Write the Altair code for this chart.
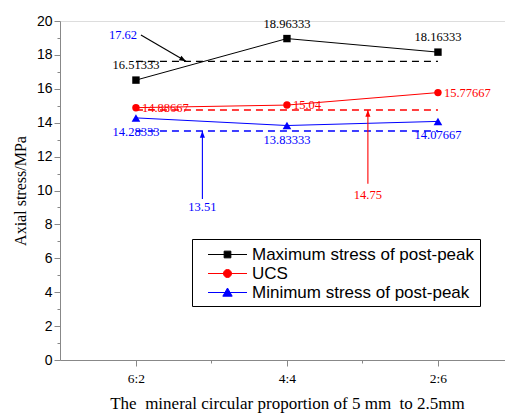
import altair as alt
import pandas as pd

# ---------------- data ----------------
categories = ["6:2", "4:4", "2:6"]
positions = [0, 1, 2]
series_names = ["Maximum stress of post-peak", "UCS", "Minimum stress of post-peak"]
series_keys = ["max", "ucs", "min"]
series_colors = ["#000000", "#ff0000", "#0000ff"]

max_stress = [16.51333, 18.96333, 18.16333]
ucs = [14.88667, 15.04, 15.77667]
min_stress = [14.28333, 13.83333, 14.07667]
max_labels = ["16.51333", "18.96333", "18.16333"]
ucs_labels = ["14.88667", "15.04", "15.77667"]
min_labels = ["14.28333", "13.83333", "14.07667"]

# average (dashed) lines
mean_keys = ["max", "ucs", "min"]
mean_values = [17.62, 14.75, 13.51]

# annotation arrows (start -> tip) and their texts
arrow_keys = ["max", "ucs", "min"]
arrow_x0 = [0.033, 1.536, 0.44]
arrow_y0 = [19.17, 10.4, 9.5]
arrow_x1 = [0.331, 1.536, 0.44]
arrow_y1 = [17.62, 14.75, 13.51]
arrow_angle = [120, 0, 0]
note_keys = ["min", "ucs", "min"]
note_text = ["17.62", "14.75", "13.51"]
note_x = [-0.086, 1.536, 0.44]
note_y = [19.17, 9.73, 9.04]

y_ticks = list(range(0, 21))
x_ticks = [0, 0.5, 1, 1.5, 2]

# ---------------- tables ----------------
rows = []
for name, key, vals, labs in zip(series_names, series_keys, [max_stress, ucs, min_stress],
                                 [max_labels, ucs_labels, min_labels]):
    for p, v, l in zip(positions, vals, labs):
        rows.append({"x": p, "y": v, "series": name, "key": key, "label": l})
df = pd.DataFrame(rows)

df_mean = pd.DataFrame({"key": mean_keys, "y": mean_values,
                        "x": [positions[0]] * 3, "x2": [positions[-1]] * 3})
df_arrow = pd.DataFrame({"key": arrow_keys, "x": arrow_x0, "y": arrow_y0,
                         "x2": arrow_x1, "y2": arrow_y1, "angle": arrow_angle})
df_note = pd.DataFrame({"key": note_keys, "text": note_text, "x": note_x, "y": note_y})

SERIF = "Liberation Serif"
SANS = "Liberation Sans"

color_scale = alt.Scale(domain=series_keys, range=series_colors)
col = alt.Color("key:N", scale=color_scale, legend=None)

label_expr = " : ".join(
    [f"datum.value == {p} ? '{c}'" for p, c in zip(positions, categories)]) + " : ''"

x_enc = alt.X("x:Q",
              scale=alt.Scale(domain=[-0.503, 2.444], nice=False, zero=False),
              axis=alt.Axis(values=x_ticks, tickCount=50, labelExpr=label_expr,
                            tickSize={"condition": {"test": "datum.value % 1 != 0", "value": 3}, "value": 6},
                            labelFont=SERIF, labelFontSize=13.5, labelPadding=5,
                            title="The\u00a0 mineral circular proportion of 5 mm\u00a0 to 2.5mm",
                            titleFont=SERIF, titleFontSize=17, titleFontWeight="normal",
                            titlePadding=11, titleX=227, labelOverlap=False, grid=False))
y_enc = alt.Y("y:Q",
              scale=alt.Scale(domain=[0, 20], nice=False, zero=False),
              axis=alt.Axis(values=y_ticks, tickCount=50, format="d",
                            labelExpr="datum.value % 2 == 0 ? datum.label : ''",
                            tickSize={"condition": {"test": "datum.value % 2 != 0", "value": 3}, "value": 6},
                            labelFont=SANS, labelFontSize=14, labelPadding=2,
                            title="Axial stress/MPa", titleFont=SERIF, titleFontSize=16,
                            titleFontWeight="normal", titlePadding=8,
                            labelOverlap=False, grid=False))

base = alt.Chart(df)

lines = base.mark_line(strokeWidth=1).encode(x=x_enc, y=y_enc, color=col, detail="key:N")

shapes = ["square", "circle", "triangle-up"]
sizes = [55, 55, 75]
point_layers = [
    base.transform_filter(alt.datum.key == key)
    .mark_point(filled=True, opacity=1, shape=shp, size=sz)
    .encode(x="x:Q", y="y:Q", color=col)
    for key, shp, sz in zip(series_keys, shapes, sizes)
]

mean_lines = alt.Chart(df_mean).mark_rule(strokeDash=[7, 5], strokeWidth=1.4).encode(
    x="x:Q", x2="x2:Q", y="y:Q", color=col)

lab_max = base.transform_filter(alt.datum.key == "max").mark_text(
    font=SERIF, fontSize=12.5, dy=-15, align="center", baseline="middle").encode(
    x="x:Q", y="y:Q", text="label:N", color=col)
lab_ucs = base.transform_filter(alt.datum.key == "ucs").mark_text(
    font=SERIF, fontSize=12.5, dx=6, align="left", baseline="middle").encode(
    x="x:Q", y="y:Q", text="label:N", color=col)
lab_min = base.transform_filter(alt.datum.key == "min").mark_text(
    font=SERIF, fontSize=12.5, dy=14, align="center", baseline="middle").encode(
    x="x:Q", y="y:Q", text="label:N", color=col)

arrow_lines = alt.Chart(df_arrow).mark_rule(strokeWidth=1.1).encode(
    x="x:Q", y="y:Q", x2="x2:Q", y2="y2:Q", color=col)
arrow_heads = alt.Chart(df_arrow).mark_point(
    filled=True, opacity=1, size=180, shape="M0,0L-0.38,1L0.38,1Z").encode(
    x="x2:Q", y="y2:Q", angle=alt.Angle("angle:Q", scale=None), color=col)

notes = alt.Chart(df_note).mark_text(font=SERIF, fontSize=12.5, align="center", baseline="middle").encode(
    x="x:Q", y="y:Q", text="text:N", color=col)

# legend: symbols made of a short line with the marker in its middle
legend_paths = [
    "M0.05,0H3.95M1.665,-0.335H2.335V0.335H1.665Z",
    "M0.05,0H3.95M1.6,0A0.4,0.4,0,1,0,2.4,0A0.4,0.4,0,1,0,1.6,0Z",
    "M0.05,0H3.95M2,-0.45L2.47,0.37H1.53Z",
]
leg = dict(orient="none", legendX=132, legendY=218, title=None, symbolSize=400,
           symbolStrokeWidth=1, symbolOpacity=1, labelFont=SANS, labelFontSize=17,
           labelColor="black", labelOffset=34, rowPadding=0, padding=5,
           strokeColor="black", fillColor="white", labelLimit=400)
legend_layer = base.mark_point(filled=True, opacity=0).encode(
    x="x:Q", y="y:Q",
    fill=alt.Fill("series:N", scale=alt.Scale(domain=series_names, range=series_colors),
                  legend=alt.Legend(**leg)),
    stroke=alt.Stroke("series:N", scale=alt.Scale(domain=series_names, range=series_colors),
                      legend=alt.Legend(**leg)),
    shape=alt.Shape("series:N", scale=alt.Scale(domain=series_names, range=legend_paths),
                    legend=alt.Legend(**leg)),
)

chart = alt.layer(
    lines, mean_lines, *point_layers, lab_max, lab_ucs, lab_min,
    arrow_lines, arrow_heads, notes, legend_layer
).properties(
    width=445, height=339,
    autosize=alt.AutoSizeParams(type="none"),
    padding={"left": 60, "top": 21, "right": 0, "bottom": 55},
).configure_view(stroke=None).configure_axis(
    domainColor="black", tickColor="black", labelColor="black", titleColor="black",
    domainWidth=1, tickWidth=1
).configure(background="white")

chart.save("out.html", embed_options={"renderer": "svg", "actions": False})
